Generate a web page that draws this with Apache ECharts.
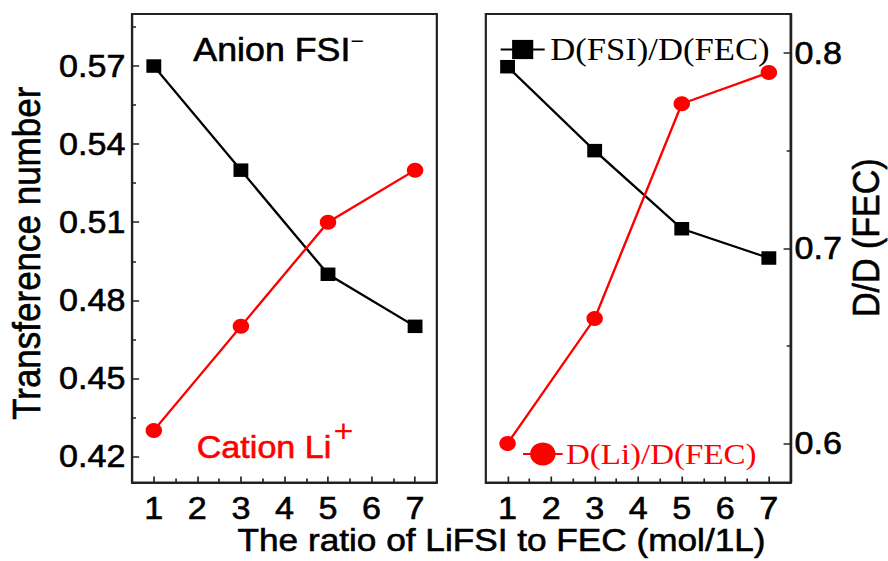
<!DOCTYPE html>
<html><head><meta charset="utf-8">
<script src="https://cdn.jsdelivr.net/npm/echarts@6/dist/echarts.min.js"></script>
<style>html,body{margin:0;padding:0;background:#fff;overflow:hidden}
#c{width:807px;height:561px;transform:scaleX(1.10037);transform-origin:0 0}</style>
</head><body><div id="c"></div><script>
// ---- data ----
const ratios = [1, 3, 5, 7];
const anionT = [0.57, 0.53, 0.49, 0.47];
const cationT = [0.43, 0.47, 0.51, 0.53];
const dFSI = [0.793, 0.750, 0.710, 0.695];
const dLi = [0.600, 0.664, 0.774, 0.790];
const xTicks = [1, 2, 3, 4, 5, 6, 7];
const xMinor = [1.5, 2.5, 3.5, 4.5, 5.5, 6.5];
const leftYTicks = [0.42, 0.45, 0.48, 0.51, 0.54, 0.57];
const leftYMinor = [0.435, 0.465, 0.495, 0.525, 0.555, 0.585];
const rightYTicks = [0.6, 0.7, 0.8];
const rightYMinor = [0.65, 0.75];
const nameFSI = 'D(FSI)/D(FEC)';
const nameLi = 'D(Li)/D(FEC)';

const SANS = "'Liberation Sans', Arial, sans-serif";
const SERIF = "'Liberation Serif', 'Times New Roman', serif";
const AX = '#222';
const BOLD = 0.6;

function pairs(ys) { return ratios.map((x, i) => [x, ys[i]]); }

function xAxis(grid, minor) {
  return {
    type: 'value', gridIndex: grid, min: 0.5, max: 7.5, position: 'bottom',
    axisLine: { show: !minor, lineStyle: { color: AX, width: 2 } },
    axisTick: { show: true, inside: true, length: minor ? 4 : 6,
      customValues: minor ? xMinor : xTicks, lineStyle: { color: AX, width: 1.5 } },
    axisLabel: minor ? { show: false } : { customValues: xTicks, margin: 10, fontSize: 31,
      fontFamily: SANS, color: '#000', textBorderColor: '#000', textBorderWidth: BOLD },
    splitLine: { show: false }
  };
}
function yAxis(grid, minor, side, min, max, ticks, minors, dec, name, nameGap, pad) {
  const ax = {
    type: 'value', gridIndex: grid, min: min, max: max, position: side,
    axisLine: { show: !minor, lineStyle: { color: AX, width: 2 } },
    axisTick: { show: true, inside: true, length: minor ? 3.6 : 6.4,
      customValues: minor ? minors : ticks, lineStyle: { color: AX, width: 1.5 } },
    axisLabel: minor ? { show: false } : { customValues: ticks, margin: side === 'left' ? 6 : 3.5,
      fontSize: 31, fontFamily: SANS, color: '#000', textBorderColor: '#000', textBorderWidth: BOLD,
      formatter: v => v.toFixed(dec) },
    splitLine: { show: false }
  };
  if (!minor && name) {
    ax.name = name; ax.nameLocation = 'middle'; ax.nameGap = nameGap;
    ax.nameTextStyle = { fontSize: side === 'left' ? 35 : 34, fontFamily: SANS, color: '#000',
      textBorderColor: '#000', textBorderWidth: BOLD, padding: pad };
  }
  return ax;
}

const chart = echarts.init(document.getElementById('c'), null, { renderer: 'svg' });
chart.setOption({
  animation: false,
  backgroundColor: '#fff',
  grid: [
    { left: 120, top: 14, width: 277, height: 468.5, show: true, borderColor: AX, borderWidth: 2 },
    { left: 441.5, top: 14, width: 277, height: 468.5, show: true, borderColor: AX, borderWidth: 2 }
  ],
  xAxis: [xAxis(0, false), xAxis(0, true), xAxis(1, false), xAxis(1, true)],
  yAxis: [
    yAxis(0, false, 'left', 0.41, 0.59, leftYTicks, leftYMinor, 2, 'Transference number', 78, [0, 10, 0, 0]),
    yAxis(0, true, 'left', 0.41, 0.59, leftYTicks, leftYMinor, 2),
    yAxis(1, false, 'right', 0.58, 0.82, rightYTicks, rightYMinor, 1, 'D/D (FEC)', 52, [0, 0, 0, 21]),
    yAxis(1, true, 'right', 0.58, 0.82, rightYTicks, rightYMinor, 1)
  ],
  legend: [
    { data: [nameFSI], left: 454, top: 33.5, padding: 0, itemWidth: 40, itemHeight: 24,
      textStyle: { fontFamily: SERIF, fontSize: 31.5, color: '#000', padding: [0, 0, 10, 0] } },
    { data: [nameLi], left: 474.3, top: 439, padding: 0, itemWidth: 36, itemHeight: 29,
      textStyle: { fontFamily: SERIF, fontSize: 30, color: '#ff0000', padding: [0, 0, 0, -2] } }
  ],
  series: [
    { name: 'Anion FSI', type: 'line', xAxisIndex: 0, yAxisIndex: 0, data: pairs(anionT),
      symbol: 'rect', symbolSize: 13.5, lineStyle: { color: '#000', width: 2.2 }, itemStyle: { color: '#000' } },
    { name: 'Cation Li', type: 'line', xAxisIndex: 0, yAxisIndex: 0, data: pairs(cationT),
      symbol: 'circle', symbolSize: 15, lineStyle: { color: '#ff0000', width: 2.2 }, itemStyle: { color: '#ff0000' } },
    { name: nameFSI, type: 'line', xAxisIndex: 2, yAxisIndex: 2, data: pairs(dFSI),
      symbol: 'rect', symbolSize: 13.5, lineStyle: { color: '#000', width: 2.2 }, itemStyle: { color: '#000' } },
    { name: nameLi, type: 'line', xAxisIndex: 2, yAxisIndex: 2, data: pairs(dLi),
      symbol: 'circle', symbolSize: 15, lineStyle: { color: '#ff0000', width: 2.2 }, itemStyle: { color: '#ff0000' } }
  ],
  graphic: [
    { type: 'text', x: 175.7, y: 49.5, style: { text: 'Anion FSI', fontSize: 32.5, fontFamily: SANS,
      fill: '#000', stroke: '#000', lineWidth: BOLD, align: 'left', verticalAlign: 'middle' } },
    { type: 'text', x: 318.5, y: 40.7, style: { text: '−', fontSize: 21, fontFamily: SANS,
      fill: '#000', align: 'left', verticalAlign: 'middle' } },
    { type: 'text', x: 178.8, y: 447, style: { text: 'Cation Li', fontSize: 31, fontFamily: SANS,
      fill: '#ff0000', stroke: '#ff0000', lineWidth: BOLD, align: 'left', verticalAlign: 'middle' } },
    { type: 'text', x: 303, y: 431, style: { text: '+', fontSize: 31, fontFamily: SANS,
      fill: '#ff0000', align: 'left', verticalAlign: 'middle' } },
    { type: 'text', x: 455.8, y: 539.8, style: { text: 'The ratio of LiFSI to FEC (mol/1L)', fontSize: 32,
      fontFamily: SANS, fill: '#000', stroke: '#000', lineWidth: BOLD, align: 'center', verticalAlign: 'middle' } }
  ]
});
</script></body></html>
